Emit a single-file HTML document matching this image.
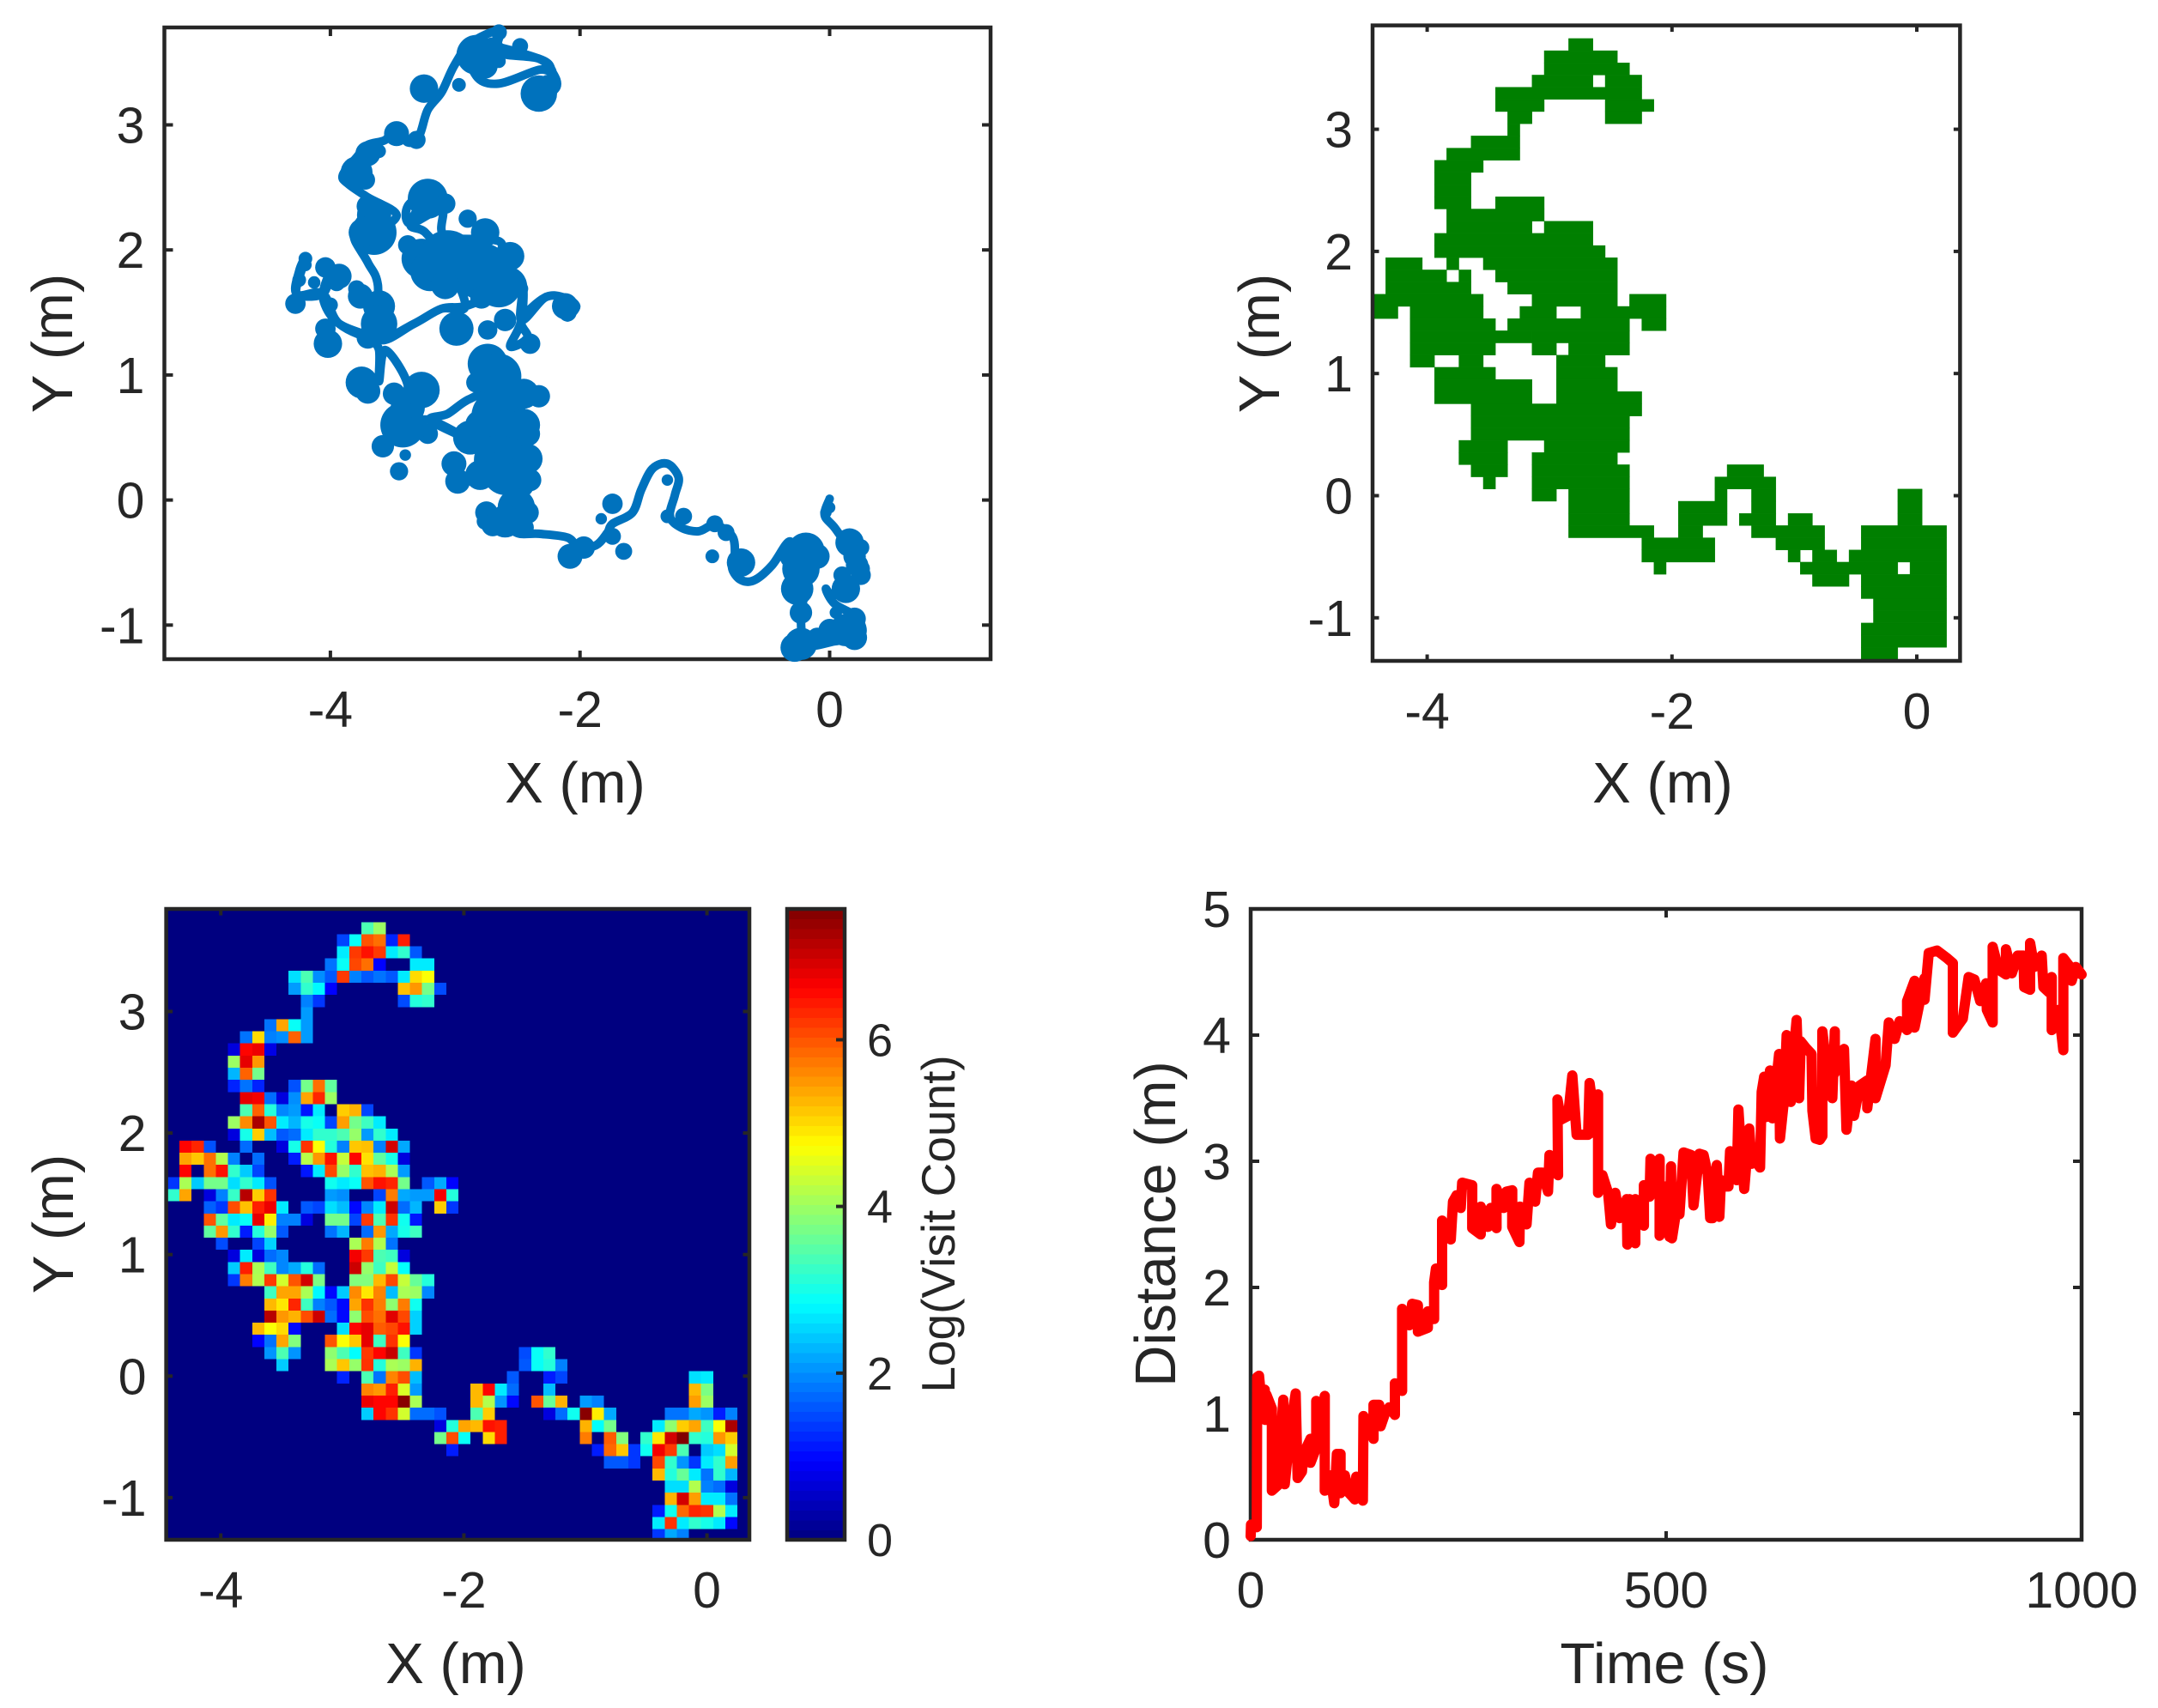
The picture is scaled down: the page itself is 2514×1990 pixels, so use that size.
<!DOCTYPE html>
<html lang="en">
<head>
<meta charset="utf-8">
<title>Trajectory analysis figure</title>
<style>
html,body{margin:0;padding:0;background:#fff}
svg{display:block}
text{font-family:"Liberation Sans",Arial,sans-serif;fill:#262626}
</style>
</head>
<body>
<svg id="fig" xmlns="http://www.w3.org/2000/svg" width="2514" height="1990" viewBox="0 0 2514 1990">
  <rect x="0" y="0" width="2514" height="1990" fill="#fff"/>
  <g id="p1"></g>
  <g id="p2"></g>
  <g id="p3"></g>
  <g id="cb"></g>
  <g id="p4"></g>

  <text x="670" y="935" font-size="67" text-anchor="middle">X (m)</text>
  <text transform="translate(84,400) rotate(-90)" font-size="67" text-anchor="middle">Y (m)</text>
  <text x="1937" y="935" font-size="67" text-anchor="middle">X (m)</text>
  <text transform="translate(1490,400) rotate(-90)" font-size="67" text-anchor="middle">Y (m)</text>
  <text x="531" y="1961" font-size="67" text-anchor="middle">X (m)</text>
  <text transform="translate(85,1426) rotate(-90)" font-size="67" text-anchor="middle">Y (m)</text>
  <text transform="translate(1112,1426) rotate(-90)" font-size="55" text-anchor="middle">Log(Visit Count)</text>
  <text x="1939" y="1961" font-size="67" text-anchor="middle">Time (s)</text>
  <text transform="translate(1369,1426) rotate(-90)" font-size="67" text-anchor="middle">Distance (m)</text>
</svg>
<script>
/* ---------- trajectory (metres) ---------- */
const trajX = [0,-.04,.04,.16,.25,.22,.04,-.03,.04,.22,.25,.04,-.19,-.23,-.19,-.28,-.32,-.46,-.6,-.71,-.78,-.76,-.78,-.92,-1.05,-1.19,-1.28,-1.24,-1.21,-1.3,-1.42,-1.51,-1.58,-1.74,-1.78,-1.87,-2.01,-2.1,-2.33,-2.51,-2.6,-2.51,-2.65,-2.88,-3.06,-3.2,-2.92,-3.2,-3.42,-3.38,-3.56,-3.61,-3.61,-3.68,-3.61,-3.93,-4.06,-4,-4.06,-4.27,-4.25,-4.2,-4.27,-4.06,-3.93,-3.61,-3.33,-3.11,-2.92,-2.7,-2.65,-2.47,-2.47,-2.56,-2.42,-2.47,-2.28,-2.13,-2.03,-2.1,-2.03,-2.13,-2.28,-2.47,-2.47,-2.65,-2.65,-3.08,-3.11,-3.36,-3.38,-3.22,-3.36,-3.24,-3.06,-2.92,-3.11,-3.33,-3.61,-3.62,-3.7,-3.81,-3.65,-3.47,-3.7,-3.86,-3.9,-3.79,-3.7,-3.56,-3.47,-3.38,-3.29,-3.22,-3.11,-3.01,-2.88,-2.65,-2.65,-2.33,-2.22,-2.33,-2.65,-2.83,-2.88,-2.33,-2.22,-2.19,-2.33];
const trajY = [.01,-.12,-.22,-.38,-.41,-.62,-.76,-.71,-.83,-.94,-1.08,-1.13,-1.15,-.9,-.69,-.52,-.33,-.52,-.64,-.64,-.55,-.45,-.29,-.2,-.25,-.22,-.13,.04,.18,.29,.25,.08,-.1,-.19,-.26,-.36,-.38,-.3,-.27,-.26,-.13,.32,.85,.81,.69,.64,.5,.64,.64,.92,1.2,.95,1.2,1.3,1.29,1.41,1.62,1.83,1.65,1.65,1.83,1.93,1.65,1.65,1.41,1.29,1.41,1.53,1.55,1.65,1.76,1.76,1.44,1.23,1.3,1.44,1.62,1.62,1.55,1.46,1.55,1.62,1.62,1.44,1.76,1.9,2.07,2.11,2.32,2.21,2.35,2.46,2.21,2.14,1.9,1.55,1.53,1.41,1.29,1.72,1.9,2.11,2.14,2.28,2.42,2.53,2.6,2.74,2.84,2.88,2.98,2.86,2.91,3.12,3.26,3.47,3.65,3.75,3.58,3.53,3.42,3.44,3.33,3.39,3.65,3.53,3.42,3.3,3.19];
const blobX = [-2.65,-2.83,-2.7,-2.76,-2.48,-2.65,-2.97,-2.33,-2.26,-3.25,-3.47,-3.31,-3.7,-3.61,-3.79,-3.72,-3.65,-3.65,-3.74,-3.7,-3.22,-3.08,-3.38,-3.27,-3.2,-3.06,-2.88,-2.76,-2.9,-2.56,-2.79,-2.65,-3.08,-2.79,-2.47,-2.12,-2.1,-2.99,-2.74,-2.6,-2.4,-4.2,-4.04,-3.93,-4.25,-4.28,-3.79,-3.61,-3.61,-3.7,-4.02,-4.04,-2.74,-2.65,-2.83,-3.75,-3.7,-3.27,-3.49,-3.38,-3.42,-3.22,-3.31,-3.58,-3.45,-3.4,-2.33,-2.65,-2.6,-2.65,-2.42,-2.6,-2.88,-3.01,-2.98,-2.51,-2.4,-2.51,-2.6,-2.76,-1.74,-1.83,-1.74,-1.65,-2.08,-1.97,-1.3,-1.3,-1.17,-.92,-.83,-.94,-.71,-.19,-.23,-.26,.16,.22,.13,-.23,.13,-.23,-.28,0,.25,0,-.03,.25,
-3.76,-4,-4.13,-3.95,-4.2,-2.8,-2.45,-2.45,-2.8,-2.42,-2.75,-2.42,-2.45,-2.7,.2,.25,.2,.2,-.1,.1,.05,-.3,-.1];
const blobY = [3.74,3.56,3.61,3.47,3.63,3.51,3.32,3.25,3.33,3.29,2.93,2.88,2.77,2.79,2.62,2.56,2.28,2.14,2.14,2.35,2.41,2.37,2.04,1.93,1.83,1.93,1.9,2.14,2.25,1.95,1.83,1.72,1.72,1.62,1.69,1.55,1.5,1.37,1.36,1.44,1.25,1.93,1.86,1.79,1.76,1.57,1.69,1.55,1.41,1.3,1.25,1.37,1.09,.99,.94,.94,.87,.88,.85,.74,.6,.53,.58,.43,.23,.36,.83,.67,.5,.32,.53,.22,.5,.29,.15,.15,.16,-.06,-.17,-.17,-.03,-.15,-.29,-.41,-.45,-.38,.16,-.13,-.13,-.19,-.26,-.45,-.5,-.41,-.55,-.71,-.34,-.52,-.71,-.9,-1.04,-1.15,-1.18,-1.04,-.38,-.06,-.1,-.55,
1.63,1.56,1.74,1.74,1.88,.6,.6,.85,.2,.33,-.1,-.1,-.22,-.2,-.45,-.6,-.95,-1.1,-1.1,-.6,-.9,-.45,-.45];
const blobRadius = [.064,.16,.09,.1,.064,.055,.055,.146,.07,.114,.1,.073,.1,.055,.128,.078,.137,.18,.114,.09,.16,.082,.078,.16,.16,.228,.18,.114,.073,.114,.228,.18,.114,.09,.055,.105,.073,.137,.078,.09,.082,.055,.082,.1,.055,.082,.068,.128,.146,.09,.114,.082,.16,.18,.082,.128,.1,.146,.09,.137,.18,.082,.09,.09,.073,.046,.09,.22,.22,.2,.1,.18,.137,.1,.1,.15,.09,.15,.13,.068,.082,.046,.068,.068,.1,.09,.046,.055,.068,.068,.068,.055,.114,.15,.15,.13,.114,.09,.114,.09,.13,.13,.114,.09,.068,.046,.046,.073,
.1,.06,.05,.07,.05,.12,.13,.12,.12,.12,.09,.09,.08,.09,.09,.08,.09,.1,.08,.07,.05,.1,.1];
const trajXTicks = [-4,-2,0];
const trajYTicks = [-1,0,1,2,3];
const trajXTickLabels = ['-4','-2','0'];
const trajYTickLabels = ['-1','0','1','2','3'];

/* ---------- occupancy: per row, pairs of first/last occupied grid columns ---------- */
const occupancySpans = [
[16,17],[14,19],[14,20],[13,17,19,21],[10,21],[10,13,19,22],[11,12,19,21],[11,11],[8,11],[6,11],
[5,8],[5,7],[5,7],[5,7,10,13],[6,13],[6,12,14,17],[5,17],[5,18],[1,3,6,6,9,19],[1,5,7,7,10,19],
[1,7,11,19],[0,8,13,19,21,23],[0,1,3,8,12,14,17,23],[3,9,11,20,22,23],[3,12,13,20],[3,9,13,14,16,20],[3,4,7,8,15,18],[5,9,15,19],[5,12,15,19],[5,12,15,21],
[8,21],[8,20],[8,20],[7,10,14,20],[7,10,13,19],[8,10,13,20,29,31],[9,9,13,20,28,32],[13,14,16,20,28,28,31,32,43,44],[16,20,25,28,31,32,43,44],[16,20,25,28,30,32,34,35,43,44],
[16,22,25,26,31,36,40,46],[22,27,33,36,40,46],[22,27,34,34,36,37,39,46],[23,23,35,42,44,46],[36,38,40,46],[40,46],[41,46],[41,46],[40,46],[40,46],[40,42]
];
const occupancyXTicks = [-4,-2,0];
const occupancyYTicks = [-1,0,1,2,3];
const occupancyXTickLabels = ['-4','-2','0'];
const occupancyYTickLabels = ['-1','0','1','2','3'];

/* ---------- heatmap: each row = [first column, log visit values...] ---------- */
const visitRows = [
[16,3.4,4],
[14,1.45,2.9,6,5.8,1.2,6.4],
[14,2.7,6.2,6.5,6.2,2.7,3.2,1.6],
[13,1.8,2.9,6.1,5.8,.95,0,0,2.7,2.7],
[10,2.6,3.4,2,1.6,6.2,1.9,1.6,1.8,1.6,2.7,5,4.7],
[10,2.1,3.2,2.8,.95,0,0,0,0,0,5.2,5.5,3.7,1.5],
[11,1.9,1.35,0,0,0,0,0,0,1.5,3.1,3.2],
[11,2.1],
[8,1.8,5.4,2.9,2.1],
[6,1.8,5,1.9,2,5.9,2.1],
[5,.7,6.6,6.75,.75],
[5,4,6.8,5.5],
[5,2.3,5.9,3.7],
[5,1.2,1.8,1.2,0,0,1.55,3.7,5.8,3.55],
[6,6.8,6.7,1.75,.7,2,5.4,6.35,4],
[6,3.4,5.9,3.1,1.95,2.1,1.1,2.7,0,5.1,5.3,1.45],
[5,4,5.6,7.25,6,2.7,2.3,3,2.9,1.45,5.45,3.7,3.3,2.7],
[5,.7,3,5.1,2.35,1.6,1.75,2.7,3.2,3.2,3.4,3.95,2.1,3.2,2.7],
[1,6.6,6.35,1.55,0,0,1.75,0,0,.7,3,6.25,4.7,3.1,1.9,5.15,5.2,1.9,6.95,2.2],
[1,5.4,5.15,5.8,4.15,1.9,0,1.75,0,0,1.15,4.2,5.5,6.5,4.3,6.6,4.95,3.55,3,.7],
[1,6.6,0,5.8,6.5,3.2,2.45,1.45,0,0,0,1.1,2.7,6.1,3.95,3.2,5.2,5.3,4.1,2.1],
[0,1.35,4.1,2.45,3.7,3.7,2.6,3.2,2.7,1.55,0,0,0,0,2.95,2.7,2.9,6,6.5,6.35,3.7,0,1.6,2.2,.95],
[0,3.2,5.4,0,.7,1.9,3.25,7.15,5.1,6.25,0,0,0,0,2.1,2,0,0,1.45,5.7,2.2,2.1,2.1,6.7,3.1],
[3,1.65,1.35,6.05,5.2,6.4,6.75,2.7,0,1.6,1.45,2.6,2.35,1,1.95,2.7,7,1.75,2.3,0,5.1,1.35],
[3,6,3.55,2.7,2.9,6.8,4.85,1.9,1.9,.7,0,3.7,3.7,1.45,6.2,3.4,6.25,2.95,1.1],
[3,3.55,5.5,3.2,1.15,3.1,3.95,1.6,0,0,0,1.8,2.3,0,1.75,5.5,2.2,3,3.3],
[4,1.5,0,0,1.45,2.5,0,0,0,0,0,0,4.1,5.7,4.15,1.8],
[5,.7,2.7,.7,1.75,1.95,0,0,0,0,0,6.7,6.2,3.4,3.3,.7],
[5,2.45,6.4,4.1,3.3,1.95,2.2,3.1,1.75,0,0,7,3.95,3.3,4.3,2.85],
[5,1.35,5.7,4.15,6.2,4.4,6,6.95,3.75,0,0,3.8,3.8,5.25,6.1,4.3,3.6,3.1],
[8,3.3,5.4,5.4,4.1,2.8,1,2.45,5.6,4.9,5.65,2.35,4.1,4,1.95],
[8,5.25,4.9,6.35,3.3,1.9,1.6,1,5.4,6.25,5.7,3.9,5.7,2.95],
[8,7.15,5.5,5.3,6.05,7,1.75,1,3.9,6.05,5.8,6.85,6.1,2.5],
[7,5.25,4.7,5,1,0,0,0,2.6,6.6,6.8,5.95,6.1,6.5,2.5],
[7,.95,1.8,5.4,3.8,0,0,6,4.7,5.15,6.8,3.3,6.25,4.7],
[8,2.05,3.4,2.05,0,0,3.9,3.4,2.85,6.2,6.6,7.05,3.3,1.35,0,0,0,0,0,0,0,0,1.5,2.9,3.2],
[9,2.45,0,0,0,4.1,5.15,3.95,6.25,3.1,4.1,4,5.3,0,0,0,0,0,0,0,0,1.6,2.9,3.1,1.9],
[14,1.2,0,3.4,1.8,5.65,6.05,2.35,0,0,0,0,0,0,0,1.6,0,0,1.15,1.45,0,0,0,0,0,0,0,0,0,0,2.6,2.7],
[16,5.65,5.5,6.4,4.45,2.1,0,0,0,0,5.25,6.6,2.7,1.75,0,0,2.35,0,0,0,0,0,0,0,0,0,0,0,5.25,3.75],
[16,6.75,6.6,6.6,7.5,4.1,0,0,0,0,5.25,4.15,2.05,1,0,6,3.6,5.3,0,2.1,1.9,0,0,0,0,0,0,0,5.45,4],
[16,2.45,6.6,6.25,4.4,1.75,1.75,1.55,0,0,3.4,5.1,0,0,0,0,.7,1.75,2.95,7.5,4.85,2.2,0,0,0,0,1.8,1.8,2.2,2.05,1.15,1.9],
[22,.7,3.1,5.4,5.25,6.5,6.4,0,0,0,0,0,0,5.3,2.85,3.7,0,0,0,2.7,3.9,5.1,5.4,3.3,4.7,7.25],
[22,3.7,6.05,2.9,0,5,6.4,0,0,0,0,0,0,5.7,0,5.95,3.8,0,3.2,4.9,6.95,7.55,3.2,3.1,5.5,5.1],
[23,1.15,0,0,0,0,0,0,0,0,0,0,0,1.15,5.85,5.15,1.35,2.95,6.7,6.2,3.4,0,2.45,2.6,4.4],
[36,1.6,1.6,1.35,0,6.1,3.2,2.05,1.35,2.7,3.2,5.45],
[40,5.25,3.1,3.6,2.7,1.8,3.2,2.3],
[41,2.6,2.6,4.15,1.9,1.75,.7],
[41,5.3,6.95,5.45,2.7,2.7,1.8],
[40,1.15,2.95,5.85,6.35,6.25,4.15,2.7],
[40,2.7,6.25,2.7,3.2,3,2.7,1],
[40,1.35,2.2,1.9]
];
const colorLimitMax = 7.57;
const colorbarTicks = [0,2,4,6];
const colorbarTickLabels = ['0','2','4','6'];
const heatXTicks = [-4,-2,0];
const heatYTicks = [-1,0,1,2,3];
const heatXTickLabels = ['-4','-2','0'];
const heatYTickLabels = ['-1','0','1','2','3'];

/* ---------- distance over time ---------- */
const timeValues = [0,.4,7.3,7.9,10,11.7,16.9,17.6,19,25.5,25.5,32.4,39.3,41,47.9,54.1,56.5,61.7,63.4,72,72,78.9,78.9,84,89.2,89.2,96.1,100.6,103.7,108.2,108.2,113.3,118.5,125.4,127.1,135,135.7,140.9,147.8,147.8,154.7,156.4,161.6,166.7,173.6,173.6,182.2,182.2,190.8,194.3,201.2,201.2,213.2,213.2,220.8,220.8,222.9,230.4,230.4,240.8,243.5,247.7,252.8,254.5,266.6,266.6,276.9,276.9,285.5,289,295.9,295.9,304.5,307.9,314.8,314.8,323.4,324.1,332,335.5,342.4,345.8,351,357.9,359.6,369.9,369.2,373.4,382,387.1,392.3,406.1,407.8,416.4,418.1,418.1,423.3,430.2,433.6,438.8,444,452.6,453.3,456,462.9,462.9,473.2,473.2,480.1,481.2,487,492.2,492.2,499,504.2,505.9,507,512,516,521,530,533,540,545,550,553,556,561,564,566,570,575,577,585,587,590,594,600,603,608,613,615,618,620,625,628,632,636,637,642,645,650,654,657,660,662,668,675,676,680,685,688,688,692,696,700,703,703,714,717,723,726,733,742,742,752,752,764,768,775,781,790,790,799,799,811,811,816,826,838,845,845,857,864,871,878,885,886,893,893,900,909,909,916,923,930,931,938,938,943,952,954,960.5,964,964,972.5,978,978,985,988,993,1000];
const distanceValues = [.03,.12,.1,1.29,1.3,1.19,1.19,.95,1.15,1.04,.39,.43,1.11,.44,.9,1.16,.49,.54,.68,.8,.61,.73,1.1,.73,1.14,.39,.51,.29,.68,.68,.37,.51,.37,.32,.5,.31,.98,.9,.8,1.07,1.07,.9,1,1.05,.99,1.24,1.18,1.83,1.7,1.87,1.86,1.65,1.68,1.81,1.75,2.04,2.15,2.02,2.53,2.38,2.68,2.73,2.63,2.83,2.81,2.47,2.42,2.64,2.48,2.63,2.47,2.78,2.63,2.76,2.77,2.48,2.36,2.64,2.5,2.83,2.68,2.91,2.91,2.76,3.05,2.89,3.49,3.33,3.36,3.68,3.21,3.21,3.62,3.21,3.53,2.75,2.89,2.75,2.5,2.75,2.55,2.7,2.34,2.7,2.35,2.7,2.49,2.81,2.72,3.02,2.75,3.02,2.41,2.8,2.4,2.96,2.39,2.6,2.58,3.07,3.05,2.65,3.06,3.05,2.9,2.55,2.55,2.97,2.56,2.85,2.8,2.8,3.08,2.85,3.41,3.1,2.78,3.26,2.98,3,2.95,3.55,3.67,3.35,3.72,3.34,3.6,3.85,3.18,3.5,4,3.47,3.9,4.12,3.5,3.95,3.9,3.85,3.4,3.18,3.17,3.2,4.03,3.8,3.8,3.5,4.03,3.7,3.89,3.25,3.6,3.36,3.6,3.64,3.42,3.97,3.5,3.76,4.1,3.97,4.11,4.04,4.27,4.43,4.06,4.45,4.28,4.65,4.67,4.61,4.57,4.02,4.13,4.46,4.44,4.27,4.41,4.2,4.1,4.7,4.52,4.48,4.68,4.49,4.63,4.63,4.38,4.36,4.73,4.54,4.63,4.38,4.34,4.46,4.04,4.2,3.88,4.61,4.55,4.43,4.54,4.48];
const timeTicks = [0,500,1000];
const distanceTicks = [0,1,2,3,4,5];
const timeTickLabels = ['0','500','1000'];
const distanceTickLabels = ['0','1','2','3','4','5'];

/* ---------- helpers ---------- */
const NS = 'http://www.w3.org/2000/svg';
const INK = '#262626';
function mk(parent, tag, attrs, txt) {
  const el = document.createElementNS(NS, tag);
  for (const k in attrs) el.setAttribute(k, attrs[k]);
  if (txt !== undefined) el.textContent = txt;
  parent.appendChild(el);
  return el;
}
function linear(v0, p0, perUnit) { return v => p0 + (v - v0) * perUnit; }
function jet(v) {
  const t = Math.max(0, Math.min(1, v / colorLimitMax));
  const ch = c => Math.round(255 * Math.max(0, Math.min(1, 1.5 - Math.abs(4 * t - c))));
  return 'rgb(' + ch(3) + ',' + ch(2) + ',' + ch(1) + ')';
}
function smoothPath(p) {
  let d = 'M' + p[0][0].toFixed(1) + ' ' + p[0][1].toFixed(1);
  for (let i = 0; i < p.length - 1; i++) {
    const a = p[Math.max(0, i - 1)], b = p[i], c = p[i + 1], e = p[Math.min(p.length - 1, i + 2)];
    const c1x = b[0] + (c[0] - a[0]) / 6, c1y = b[1] + (c[1] - a[1]) / 6;
    const c2x = c[0] - (e[0] - b[0]) / 6, c2y = c[1] - (e[1] - b[1]) / 6;
    d += 'C' + c1x.toFixed(1) + ' ' + c1y.toFixed(1) + ' ' + c2x.toFixed(1) + ' ' + c2y.toFixed(1) + ' ' + c[0].toFixed(1) + ' ' + c[1].toFixed(1);
  }
  return d;
}
function drawAxes(g, box, x, y, xt, yt, xl, yl, tickLen) {
  const f = mk(g, 'rect', {x: box.l, y: box.t, width: box.r - box.l, height: box.b - box.t, fill: 'none', stroke: INK, 'stroke-width': 4.5});
  
  
  xt.forEach((v, i) => {
    const px = x(v);
    const a = mk(g, 'line', {x1: px, x2: px, y1: box.b, y2: box.b - tickLen, stroke: INK, 'stroke-width': 4});
    
    
    const b = mk(g, 'line', {x1: px, x2: px, y1: box.t, y2: box.t + tickLen, stroke: INK, 'stroke-width': 4});
    
    
    const t = mk(g, 'text', {x: px, y: box.b + 79, 'font-size': 59, 'text-anchor': 'middle'}, xl[i]);
    
    
  });
  yt.forEach((v, i) => {
    const py = y(v);
    const a = mk(g, 'line', {x1: box.l, x2: box.l + tickLen, y1: py, y2: py, stroke: INK, 'stroke-width': 4});
    
    
    const b = mk(g, 'line', {x1: box.r, x2: box.r - tickLen, y1: py, y2: py, stroke: INK, 'stroke-width': 4});
    
    
    const t = mk(g, 'text', {x: box.l - 23, y: py + 21, 'font-size': 59, 'text-anchor': 'end'}, yl[i]);
    
    
  });
}

/* ---------- plot 1: trajectory ---------- */
(function () {
  const g = document.getElementById('p1');
  const box = {l: 191.5, r: 1154, t: 32, b: 768};
  const x = linear(0, 966.5, 145.4), y = linear(0, 582.6, -145.7);
  drawAxes(g, box, x, y, trajXTicks, trajYTicks, trajXTickLabels, trajYTickLabels, 10);
  const pts = trajX.map((v, i) => [x(v), y(trajY[i])]);
  const line = mk(g, 'path', {d: smoothPath(pts), fill: 'none', stroke: '#0072bd', 'stroke-width': 10, 'stroke-linejoin': 'round', 'stroke-linecap': 'round'});
  
  
  blobX.forEach((v, i) => {
    const c = mk(g, 'circle', {cx: x(v), cy: y(blobY[i]), r: blobRadius[i] * 145.4, fill: '#0072bd'});
    
    
  });
})();

/* ---------- plot 2: occupancy ---------- */
(function () {
  const g = document.getElementById('p2');
  const box = {l: 1599, r: 2283.4, t: 29.6, b: 770};
  const x = linear(0, 2233, 142.6), y = linear(0, 577.5, -142.3);
  const cellX = c => -4.438 + 0.0996 * c;
  const cellY = r => 3.743 - 0.0997 * r;
  occupancySpans.forEach((spans, r) => {
    for (let i = 0; i < spans.length; i += 2) {
      const x0 = x(cellX(spans[i])), x1 = x(cellX(spans[i + 1] + 1));
      const y0 = y(cellY(r)), y1 = y(cellY(r + 1));
      const m = mk(g, 'rect', {x: x0, y: y0, width: x1 - x0, height: y1 - y0, fill: '#007f00', stroke: '#007f00', 'stroke-width': 0.4});
      
      
    }
  });
  drawAxes(g, box, x, y, occupancyXTicks, occupancyYTicks, occupancyXTickLabels, occupancyYTickLabels, 7.5);
})();

/* ---------- plot 3: heatmap ---------- */
(function () {
  const g = document.getElementById('p3');
  const box = {l: 193.6, r: 873, t: 1059, b: 1794};
  const x = linear(0, 823.6, 141.6), y = linear(0, 1603.3, -141.6);
  const cellX = c => -4.44 + 0.0998 * c;
  const cellY = r => 3.736 - 0.0999 * r;
  const bg = mk(g, 'rect', {x: box.l, y: box.t, width: box.r - box.l, height: box.b - box.t, fill: jet(0)});
  
  
  visitRows.forEach((row, r) => {
    const first = row[0];
    row.slice(1).forEach((v, i) => {
      if (!v) return;
      const x0 = x(cellX(first + i)), x1 = x(cellX(first + i + 1));
      const y0 = y(cellY(r)), y1 = Math.min(y(cellY(r + 1)), box.b);
      const m = mk(g, 'rect', {x: x0, y: y0, width: x1 - x0, height: y1 - y0, fill: jet(v), 'shape-rendering': 'crispEdges'});
      
      
    });
  });
  drawAxes(g, box, x, y, heatXTicks, heatYTicks, heatXTickLabels, heatYTickLabels, 7.5);
})();

/* ---------- colorbar ---------- */
(function () {
  const g = document.getElementById('cb');
  const box = {l: 917, r: 984, t: 1059, b: 1794};
  const y = linear(0, box.b, -(box.b - box.t) / colorLimitMax);
  const levels = 64;
  for (let i = 0; i < levels; i++) {
    const v0 = colorLimitMax * i / levels, v1 = colorLimitMax * (i + 1) / levels;
    const s = mk(g, 'rect', {x: box.l, y: y(v1), width: box.r - box.l, height: y(v0) - y(v1) + 0.5, fill: jet((v0 + v1) / 2), 'shape-rendering': 'crispEdges'});
    
    
  }
  const f = mk(g, 'rect', {x: box.l, y: box.t, width: box.r - box.l, height: box.b - box.t, fill: 'none', stroke: INK, 'stroke-width': 4.5});
  
  
  colorbarTicks.forEach((v, i) => {
    const py = y(v);
    const t = mk(g, 'line', {x1: box.r, x2: box.r - 10, y1: py, y2: py, stroke: INK, 'stroke-width': 4});
    
    
    const l = mk(g, 'text', {x: 1010, y: py + 19, 'font-size': 54, 'text-anchor': 'start'}, colorbarTickLabels[i]);
    
    
  });
})();

/* ---------- plot 4: distance ---------- */
(function () {
  const g = document.getElementById('p4');
  const box = {l: 1457, r: 2425, t: 1059, b: 1794};
  const x = linear(0, 1457, 0.968), y = linear(0, 1794, -147);
  drawAxes(g, box, x, y, timeTicks, distanceTicks, timeTickLabels, distanceTickLabels, 10);
  const pts = timeValues.map((v, i) => x(v).toFixed(1) + ',' + y(distanceValues[i]).toFixed(1)).join(' ');
  const line = mk(g, 'polyline', {points: pts, fill: 'none', stroke: '#ff0000', 'stroke-width': 12, 'stroke-linejoin': 'round', 'stroke-linecap': 'round'});
  
  
})();
</script>
</body>
</html>
